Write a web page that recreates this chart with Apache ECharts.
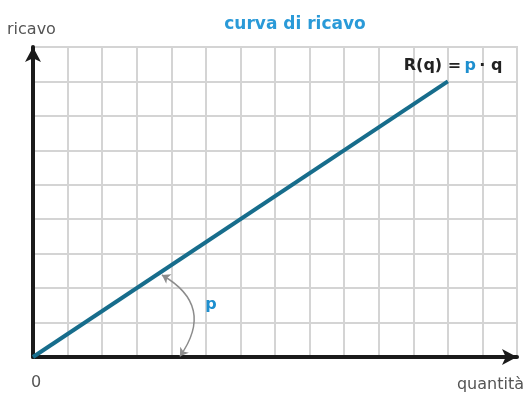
<!DOCTYPE html>
<html>
<head>
<meta charset="utf-8">
<script src="https://cdn.jsdelivr.net/npm/echarts@6/dist/echarts.min.js"></script>
<style>
  html, body { margin: 0; padding: 0; background: #fff; }
  #main { width: 525px; height: 397px; }
</style>
</head>
<body>
<div id="main"></div>
<script>
// quantità (q) e ricavo R(q) = p * q
var quantita = [0, 12];
var ricavo = [0, 8];
// freccia curva che indica la pendenza p (coordinate dati)
var arcoP = [[3.73, 2.38], [4.25, 0.02]];
var xMax = 14, yMax = 9;

var chart = echarts.init(document.getElementById('main'));

var option = {
    animation: false,
    title: {
        text: 'curva di ricavo',
        left: 290,
        top: 11,
        textAlign: 'center',
        textStyle: { color: '#2a9ad8', fontSize: 17, fontWeight: 'bold', fontFamily: 'DejaVu Sans' }
    },
    grid: { left: 33, right: 8, top: 47, bottom: 40 },
    xAxis: {
        type: 'value', min: 0, max: xMax, interval: 1,
        axisLine: { show: true, symbol: ['none', 'arrow'], symbolSize: [12, 15], lineStyle: { color: '#1a1a1a', width: 4 } },
        axisTick: { show: false },
        axisLabel: { show: false },
        splitLine: { show: true, lineStyle: { color: '#d4d4d4', width: 2 } }
    },
    yAxis: {
        type: 'value', min: 0, max: yMax, interval: 1,
        axisLine: { show: true, symbol: ['none', 'arrow'], symbolSize: [12, 15], lineStyle: { color: '#1a1a1a', width: 4 } },
        axisTick: { show: false },
        axisLabel: { show: false },
        splitLine: { show: true, lineStyle: { color: '#d4d4d4', width: 2 } }
    },
    graphic: [
        { type: 'text', left: 7, top: 22, style: { text: 'ricavo', fill: '#555', font: '16px DejaVu Sans' } },
        { type: 'text', left: 31, top: 375, style: { text: '0', fill: '#555', font: '16px DejaVu Sans' } },
        { type: 'text', right: 1, top: 377, style: { text: 'quantità', fill: '#555', font: '16px DejaVu Sans' } },
        // bordo destro e superiore della griglia
        { type: 'rect', shape: { x: 33, y: 47, width: 484, height: 310 }, style: { fill: 'none', stroke: '#d4d4d4', lineWidth: 2 }, z: 0 }
    ],
    series: [
        {
            type: 'line',
            data: quantita.map(function (q, i) { return [q, ricavo[i]]; }),
            symbol: 'none',
            lineStyle: { color: '#176d8c', width: 4 },
            z: 5,
            markPoint: {
                symbol: 'rect', symbolSize: 1,
                itemStyle: { color: 'transparent' },
                data: [
                    {
                        coord: [12.15, 8.45],
                        label: {
                            show: true,
                            formatter: '{a|R(q) =} {b|p} {a|· q}',
                            rich: {
                                a: { color: '#222', fontSize: 16, fontWeight: 'bold', fontFamily: 'DejaVu Sans' },
                                b: { color: '#1e8fcf', fontSize: 16, fontWeight: 'bold', fontFamily: 'DejaVu Sans' }
                            }
                        }
                    },
                    {
                        coord: [5.15, 1.5],
                        label: { show: true, formatter: 'p', color: '#1e8fcf', fontSize: 16, fontWeight: 'bold', fontFamily: 'DejaVu Sans' }
                    }
                ]
            }
        },
        {
            type: 'lines',
            coordinateSystem: 'cartesian2d',
            symbol: ['arrow', 'arrow'],
            symbolSize: 8,
            lineStyle: { color: '#8c8c8c', width: 1.5, curveness: 0.55, opacity: 1 },
            data: [{ coords: arcoP }],
            z: 4
        }
    ]
};

chart.setOption(option);
</script>
</body>
</html>
